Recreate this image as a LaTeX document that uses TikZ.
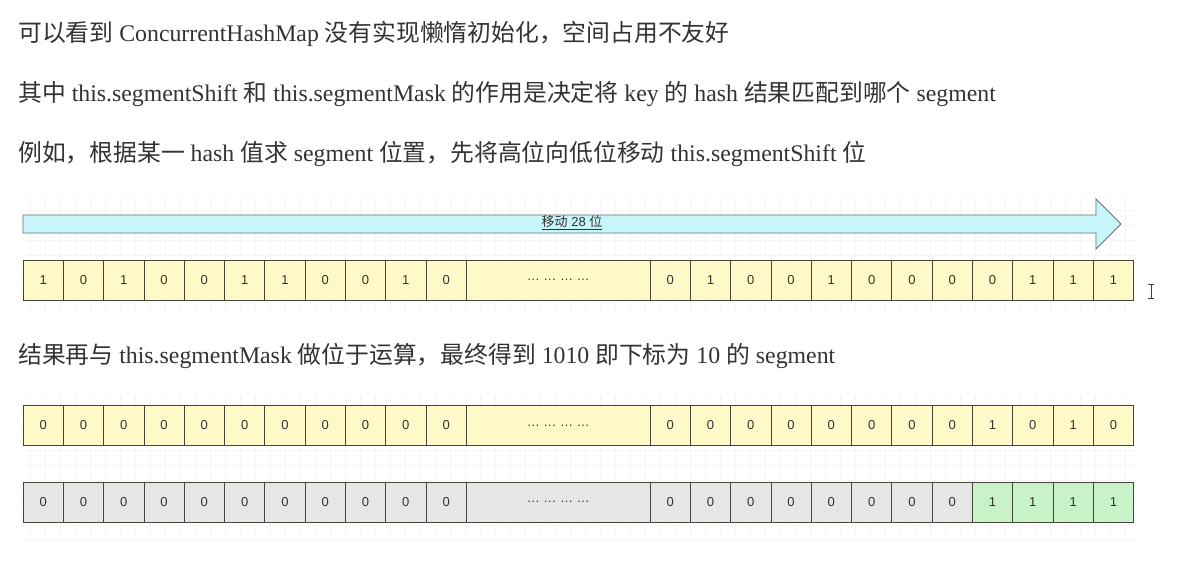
\documentclass[tikz,border=0pt]{standalone}
\usepackage{fontspec}
\usepackage{xcolor}
\usepackage{tikz}
\setmainfont{Liberation Serif}
\newfontfamily\cjk{Noto Sans CJK SC}
\newfontfamily\cellfont{Liberation Sans}
\usetikzlibrary{positioning}

\definecolor{txtgray}{HTML}{333333}
\definecolor{bityellow}{HTML}{FFF9C8}
\definecolor{bitgray}{HTML}{E6E6E6}
\definecolor{bitgreen}{HTML}{C8F2C8}
\definecolor{arrowfill}{HTML}{C8F5FA}
\definecolor{arrowline}{HTML}{5A7478}
\definecolor{cellline}{HTML}{45453A}

\begin{document}
\begin{tikzpicture}[
    x=1pt, y=-1pt,
    line/.style={anchor=base west, inner sep=0pt, text=txtgray, font=\fontsize{23.8}{28}\selectfont},
    bit/.style={rectangle, draw=cellline, line width=0.8pt, minimum width=40.3pt, minimum height=40pt, inner sep=0pt, text=txtgray, font=\cellfont\fontsize{13}{13}\selectfont},
    yel/.style={bit, fill=bityellow},
    gry/.style={bit, fill=bitgray},
    grn/.style={bit, fill=bitgreen},
    dots/.style={minimum width=183.7pt},
    gridline/.style={draw=black!4, line width=0.5pt},
    shiftarrow/.style={draw=arrowline, fill=arrowfill, line width=0.9pt, line join=miter}
]
    \useasboundingbox[fill=white] (0,0) rectangle (1191,571);

    % text lines
    \node[line] (l1) at (18,41) {{\cjk 可以看到} ConcurrentHashMap {\cjk 没有实现懒惰初始化，空间占用不友好}};
    \node[line] (l2) at (18,101) {{\cjk 其中} this.segmentShift {\cjk 和} this.segmentMask {\cjk 的作用是决定将} key {\cjk 的} hash {\cjk 结果匹配到哪个} segment};
    \node[line] (l3) at (18,161) {{\cjk 例如，根据某一} hash {\cjk 值求} segment {\cjk 位置，先将高位向低位移动} this.segmentShift {\cjk 位}};
    \node[line] (l4) at (18,363) {{\cjk 结果再与} this.segmentMask {\cjk 做位于运算，最终得到} 1010 {\cjk 即下标为} 10 {\cjk 的} segment};

    % faint grid
    \draw[gridline, step=15pt] (22,196) grid (1136,313);
    \draw[gridline, step=15pt] (22,395) grid (1136,540);

    % shift arrow
    \draw[shiftarrow] (23,215) -- (1096,215) -- (1096,199) -- (1121,224) -- (1096,249) -- (1096,233) -- (23,233) -- cycle;
    \node[inner sep=0pt, text=txtgray, font=\cellfont\fontsize{13}{13}\selectfont] (shift) at (572,223) {\underline{{\cjk 移动} 28 {\cjk 位}}};

    % hash
    \foreach \v [count=\i] in {1,0,1,0,0,1,1,0,0,1,0}
        \node[yel] (a\i) at ({23+40.3*(\i-0.5)},280) {\v};
    \node[yel, dots] (adots) at (558.2,280) {… … … …};
    \foreach \v [count=\i] in {0,1,0,0,1,0,0,0,0,1,1,1}
        \node[yel] (b\i) at ({650+40.3*(\i-0.5)},280) {\v};

    % shifted
    \foreach \i in {1,...,11}
        \node[yel] (c\i) at ({23+40.3*(\i-0.5)},425.5) {0};
    \node[yel, dots] (cdots) at (558.2,425.5) {… … … …};
    \foreach \v [count=\i] in {0,0,0,0,0,0,0,0,1,0,1,0}
        \node[yel] (d\i) at ({650+40.3*(\i-0.5)},425.5) {\v};

    % mask
    \foreach \i in {1,...,11}
        \node[gry] (e\i) at ({23+40.3*(\i-0.5)},502) {0};
    \node[gry, dots] (edots) at (558.2,502) {… … … …};
    \foreach \i in {1,...,8}
        \node[gry] (f\i) at ({650+40.3*(\i-0.5)},502) {0};
    \foreach \i in {9,...,12}
        \node[grn] (f\i) at ({650+40.3*(\i-0.5)},502) {1};

    % text cursor
    \draw[line width=0.9pt, black!75] (1148,284) -- (1154,284) (1151,284) -- (1151,298) (1148,298) -- (1154,298);
\end{tikzpicture}
\end{document}
